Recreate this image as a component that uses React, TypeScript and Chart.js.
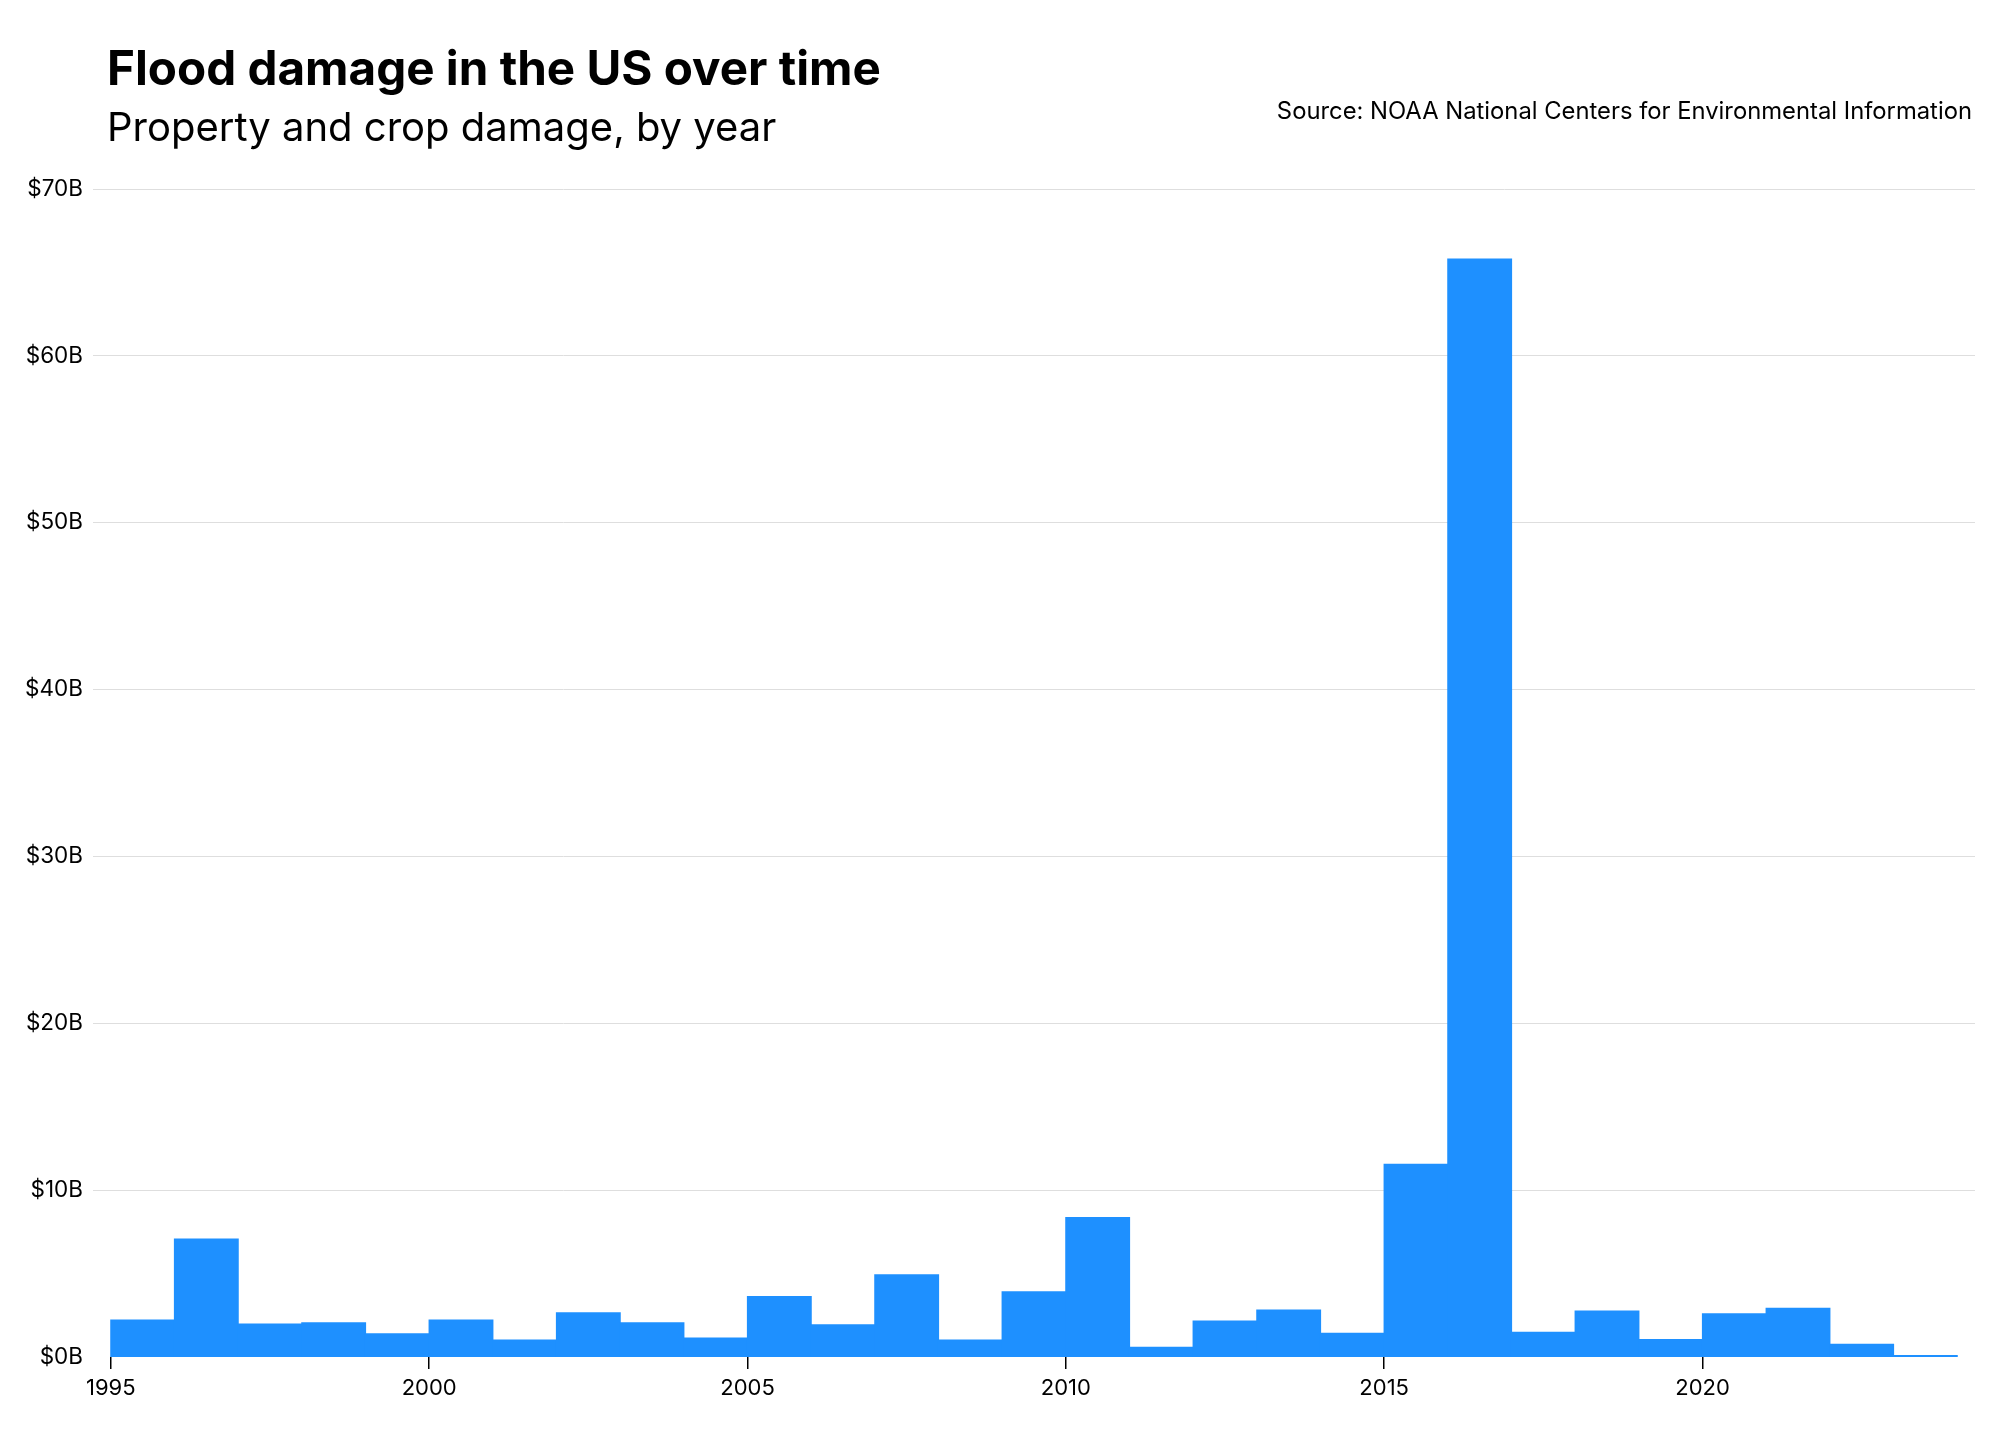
import { useEffect, useRef } from "react";
import { Chart, registerables } from "chart.js";

Chart.register(...registerables);

// Flood damage per year, billions of dollars
const years = [
  1995, 1996, 1997, 1998, 1999, 2000, 2001, 2002, 2003, 2004,
  2005, 2006, 2007, 2008, 2009, 2010, 2011, 2012, 2013, 2014,
  2015, 2016, 2017, 2018, 2019, 2020, 2021, 2022, 2023,
];
const damage = [
  2.21, 7.07, 1.97, 2.05, 1.39, 2.21, 1.02, 2.65, 2.05, 1.14,
  3.62, 1.93, 4.92, 1.02, 3.9, 8.35, 0.58, 2.15, 2.81, 1.41,
  11.55, 65.8, 1.47, 2.75, 1.04, 2.59, 2.91, 0.76, 0.08,
];
const xTickYears = [1995, 2000, 2005, 2010, 2015, 2020];
const yTickValues = [0, 10, 20, 30, 40, 50, 60, 70];

const FONT = "Inter, 'Noto Sans', sans-serif";

function createChart(canvasEl: HTMLCanvasElement): Chart {
  const ctx = canvasEl.getContext("2d") as CanvasRenderingContext2D;

  return new Chart(ctx, {
    type: "bar",
    data: {
      datasets: [
        {
          label: "Damage",
          // each bar covers one whole year, so it sits at year + 0.5
          data: years.map((y, i) => ({ x: y + 0.5, y: damage[i] })),
          backgroundColor: "#1E90FF",
          borderWidth: 0,
          inflateAmount: 0.6,
          barPercentage: 1,
          categoryPercentage: 1,
        },
      ],
    },
    options: {
      animation: false,
      responsive: false,
      maintainAspectRatio: false,
      layout: { padding: { left: 0, right: 25, top: 189, bottom: 27 } },
      plugins: {
        legend: { display: false },
        tooltip: { enabled: false },
      },
      scales: {
        x: {
          type: "linear",
          offset: false,
          min: 1994.72,
          max: 2024.28,
          afterBuildTicks: (scale) => {
            scale.ticks = xTickYears.map((v) => ({ value: v }));
          },
          afterFit: (scale) => {
            scale.height = 60;
          },
          border: { display: false },
          grid: {
            offset: false,
            drawOnChartArea: false,
            drawTicks: true,
            tickLength: 12,
            color: "#000000",
            lineWidth: 1.5,
          },
          ticks: {
            padding: 6,
            color: "#000000",
            font: { family: FONT, size: 22 },
            callback: (v) => String(v),
            maxRotation: 0,
            autoSkip: false,
          },
        },
        y: {
          min: 0,
          max: 70,
          afterBuildTicks: (scale) => {
            scale.ticks = yTickValues.map((v) => ({ value: v }));
          },
          afterFit: (scale) => {
            scale.width = 93;
          },
          border: { display: false },
          grid: {
            drawTicks: false,
            color: (c) => (c.tick && c.tick.value === 0 ? "rgba(0,0,0,0)" : "#dedede"),
            lineWidth: 1,
          },
          ticks: {
            padding: 10,
            color: "#000000",
            font: { family: FONT, size: 22.5 },
            callback: (v) => `$${v}B`,
          },
        },
      },
    },
  });
}

export default function App() {
  const canvasRef = useRef<HTMLCanvasElement>(null);

  useEffect(() => {
    const chart = createChart(canvasRef.current!);
    return () => {
      chart.destroy();
    };
  }, []);

  return (
    <div
      style={{
        position: "absolute",
        left: 0,
        top: 0,
        width: 2000,
        height: 1444,
        background: "#ffffff",
        fontFamily: FONT,
        color: "#000000",
      }}
    >
      <canvas
        ref={canvasRef}
        width={2000}
        height={1444}
        style={{ position: "absolute", left: 0, top: 0, width: 2000, height: 1444 }}
      ></canvas>
      <div
        style={{
          position: "absolute",
          left: 107,
          top: 39,
          fontSize: 47.6,
          lineHeight: "58px",
          fontWeight: 700,
          whiteSpace: "nowrap",
        }}
      >
        Flood damage in the US over time
      </div>
      <div
        style={{
          position: "absolute",
          left: 107,
          top: 103,
          fontSize: 40,
          lineHeight: "48px",
          fontWeight: 400,
          whiteSpace: "nowrap",
        }}
      >
        Property and crop damage, by year
      </div>
      <div
        style={{
          position: "absolute",
          right: 28,
          top: 97,
          fontSize: 23.8,
          lineHeight: "28px",
          fontWeight: 400,
          whiteSpace: "nowrap",
        }}
      >
        Source: NOAA National Centers for Environmental Information
      </div>
    </div>
  );
}
